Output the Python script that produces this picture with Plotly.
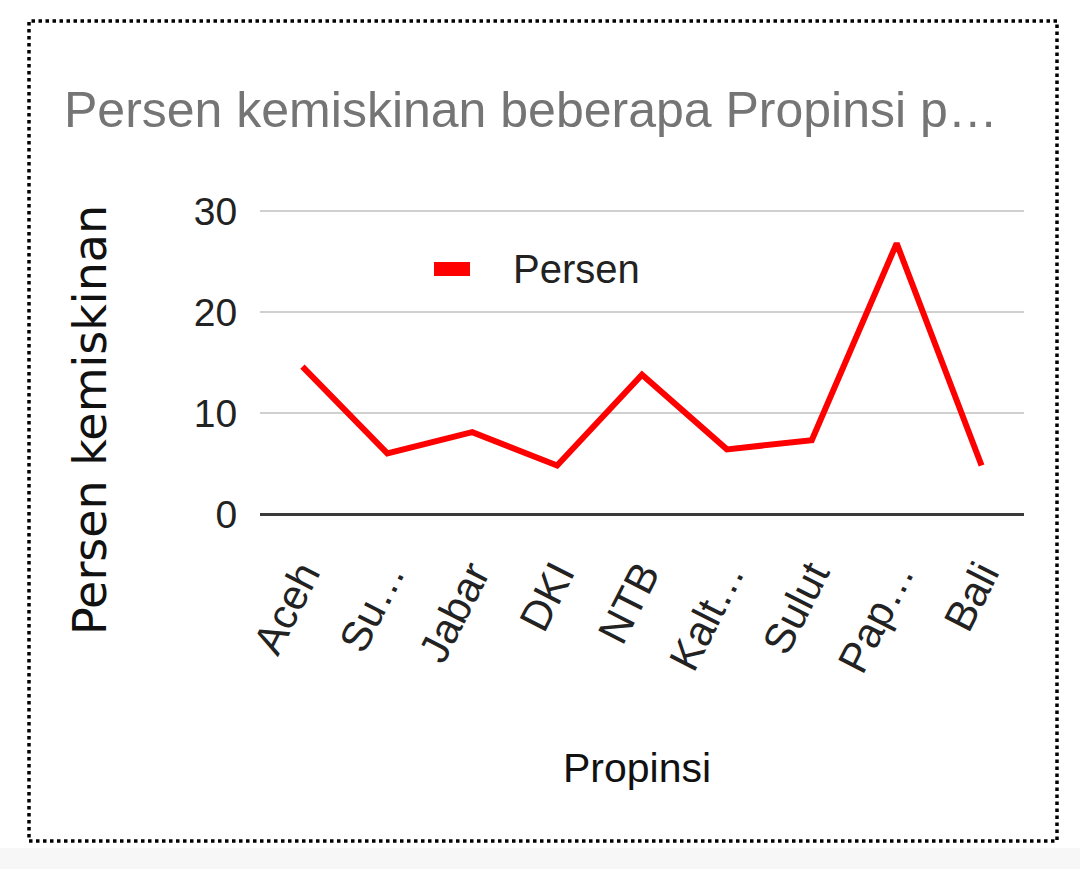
import plotly.graph_objects as go

# ---- data ----
propinsi = ["Aceh", "Su…", "Jabar", "DKI", "NTB", "Kalt…", "Sulut", "Pap…", "Bali"]
persen = [14.6, 6.0, 8.1, 4.8, 13.8, 6.4, 7.3, 26.8, 4.8]
y_ticks = [0, 10, 20, 30]

title_text = "Persen kemiskinan beberapa Propinsi p…"
y_title = "Persen kemiskinan"
x_title = "Propinsi"
series_name = "Persen"

# ---- layout geometry (pixels) ----
W, H = 1080, 869
L, R, T, B = 260, 1024, 209, 514  # plot area edges in px
Y_MAX = 30.2


def fx(px):
    return (px - L) / (R - L)


def fy(py):
    return (B - py) / (B - T)


SANS = "Liberation Sans, Arial, sans-serif"
RED = "#ff0000"

fig = go.Figure()
fig.add_trace(go.Scatter(
    x=propinsi, y=persen, mode="lines", name=series_name,
    line=dict(color=RED, width=6), showlegend=False, cliponaxis=False,
))

fig.update_layout(
    width=W, height=H,
    margin=dict(l=L, r=W - R, t=T, b=H - B, pad=0),
    paper_bgcolor="white", plot_bgcolor="white",
    showlegend=False,
    xaxis=dict(
        type="category", tickangle=-63,
        tickfont=dict(family=SANS, size=42, color="#222222"),
        ticks="outside", ticklen=18, tickcolor="rgba(0,0,0,0)",
        showgrid=False, showline=False, zeroline=False,
        range=[-0.5, len(propinsi) - 0.5],
    ),
    yaxis=dict(
        range=[0, Y_MAX], tickvals=y_ticks,
        tickfont=dict(family=SANS, size=39, color="#222222"),
        ticks="outside", ticklen=14, tickcolor="rgba(0,0,0,0)",
        showgrid=True, gridcolor="#d0d0d0", gridwidth=2,
        zeroline=True, zerolinecolor="#3a3a3a", zerolinewidth=3,
        showline=False,
    ),
)

annotations = [
    dict(text=title_text, x=fx(62), y=fy(110), xanchor="left", yanchor="middle",
         font=dict(family=SANS, size=50, color="#757575")),
    dict(text=y_title, x=fx(90), y=fy(420), xanchor="center", yanchor="middle",
         textangle=-90, font=dict(family="DejaVu Sans, Arial", size=46, color="#111111")),
    dict(text=x_title, x=fx(637), y=fy(768), xanchor="center", yanchor="middle",
         font=dict(family=SANS, size=41, color="#111111")),
    dict(text=series_name, x=fx(511), y=fy(269), xanchor="left", yanchor="middle",
         font=dict(family=SANS, size=40, color="#222222")),
]
for a in annotations:
    a.update(xref="paper", yref="paper", showarrow=False)
fig.update_layout(annotations=annotations)

fig.update_layout(shapes=[
    dict(type="rect", xref="paper", yref="paper", layer="below",
         x0=fx(0), x1=fx(W), y0=fy(H), y1=fy(848),
         fillcolor="#f7f7f7", line=dict(width=0)),
    dict(type="rect", xref="paper", yref="paper",
         x0=fx(29), x1=fx(1057), y0=fy(841), y1=fy(21),
         line=dict(color="black", width=3.5, dash="dot")),
    dict(type="rect", xref="paper", yref="paper",
         x0=fx(434), x1=fx(470), y0=fy(276), y1=fy(262),
         fillcolor=RED, line=dict(width=0)),
])

fig.write_html(
    "out.html",
    config={"displayModeBar": False},
    post_script="document.body.style.margin='0px';document.body.style.overflow='hidden';",
)
